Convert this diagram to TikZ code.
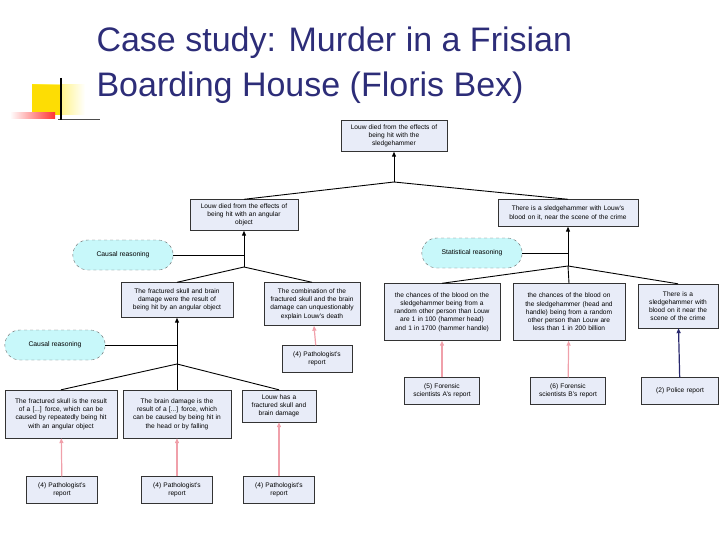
\documentclass[tikz,border=0pt]{standalone}
\usepackage{fontspec}
\setmainfont{Liberation Sans}
\usetikzlibrary{positioning,arrows.meta,shapes,calc}
\definecolor{titleblue}{RGB}{45,45,120}
\definecolor{boxfill}{RGB}{232,236,248}
\definecolor{reasonfill}{RGB}{200,248,250}
\definecolor{pinkarrow}{RGB}{240,160,170}
\definecolor{navyarrow}{RGB}{40,40,110}
\begin{document}
\begin{tikzpicture}[
    x=1pt, y=-1pt,
    >=Triangle,
    claim/.style={rectangle, draw=black!80, fill=boxfill, align=center, font=\fontsize{6.6}{8.2}\selectfont, inner sep=1.5pt},
    report/.style={claim, minimum height=27pt},
    reason/.style={rounded rectangle, draw=black!60, dashed, fill=reasonfill, minimum width=107pt, minimum height=30pt, font=\fontsize{6.8}{8}\selectfont},
    link/.style={line width=0.9pt},
    support/.style={->, line width=1pt, >={Triangle[length=5pt,width=4pt]}},
    testimony/.style={->, line width=1.2pt, draw=pinkarrow, >={Triangle[length=5pt,width=4pt]}}
]
\useasboundingbox (0,0) rectangle (720,540);

% === Title and decoration ===
\shade[left color=yellow!80!orange, right color=white] (32,85) rectangle (85,115);
\fill[yellow!80!orange] (32,85) rectangle (62,115);
\shade[left color=white, right color=red!80] (10,113) rectangle (55,119);
\draw[black!70, line width=0.6pt] (58,119) -- (100,119);
\draw[line width=1.2pt] (61,78) -- (61,120);
\node[anchor=west, text=titleblue, font=\fontsize{34}{45}\selectfont, align=left] (title) at (93,65) {Case study: Murder in a Frisian\\Boarding House (Floris Bex)};

% === Claims ===
\node[claim, text width=103pt, minimum height=31pt] (top) at (394,136) {Louw died from the effects of\\being hit with the\\sledgehammer};
\node[claim, text width=105pt, minimum height=31pt] (angular) at (244,215) {Louw died from the effects of\\being hit with an angular\\object};
\node[claim, text width=137pt, minimum height=27pt] (hammer) at (568,213) {There is a sledgehammer with Louw's\\blood on it, near the scene of the crime};
\node[claim, text width=109pt, minimum height=35pt] (result) at (177,300) {The fractured skull and brain\\damage were the result of\\being hit by an angular object};
\node[claim, text width=93pt, minimum height=43pt] (combo) at (312,304) {The combination of the\\fractured skull and the brain\\damage can unquestionably\\explain Louw's death};
\node[claim, text width=109pt, minimum height=48pt] (skull) at (61,414) {The fractured skull is the result\\of a [...] force, which can be\\caused by repeatedly being hit\\with an angular object};
\node[claim, text width=105pt, minimum height=48pt] (brain) at (177,414) {The brain damage is the\\result of a [...] force, which\\can be caused by being hit in\\the head or by falling};
\node[claim, text width=71pt, minimum height=32pt] (louw) at (279,406) {Louw has a\\fractured skull and\\brain damage};
\node[claim, text width=113pt, minimum height=57pt] (chanceA) at (442,312) {the chances of the blood on the\\sledgehammer being from a\\random other person than Louw\\are 1 in 100 (hammer head)\\and 1 in 1700 (hammer handle)};
\node[claim, text width=109pt, minimum height=57pt] (chanceB) at (569,312) {the chances of the blood on\\the sledgehammer (head and\\handle) being from a random\\other person than Louw are\\less than 1 in 200 billion};
\node[claim, text width=77pt, minimum height=44pt] (blood) at (678,306) {There is a\\sledgehammer with\\blood on it near the\\scene of the crime};

% === Sources ===
\node[report, text width=67pt] (pathA) at (317,359) {(4) Pathologist's\\report};
\node[report, text width=68pt] (pathB) at (62,490) {(4) Pathologist's\\report};
\node[report, text width=68pt] (pathC) at (177,490) {(4) Pathologist's\\report};
\node[report, text width=68pt] (pathD) at (279,490) {(4) Pathologist's\\report};
\node[report, text width=72pt] (forA) at (442,391) {(5) Forensic\\scientists A's report};
\node[report, text width=72pt] (forB) at (568,391) {(6) Forensic\\scientists B's report};
\node[report, text width=74pt] (police) at (680,391) {(2) Police report};

% === Reasoning labels ===
\node[reason] (causal1) at (123,255) {Causal reasoning};
\node[reason] (causal2) at (55,345) {Causal reasoning};
\node[reason] (stat) at (472,253) {Statistical reasoning};

% === Junctions ===
\coordinate (j1) at (394,182);
\coordinate (j2) at (244,267);
\coordinate (j3) at (177,364);
\coordinate (j4) at (568,266);

\draw[link] (angular.north) -- (j1) -- (hammer.north);
\draw[support] (j1) -- (top.south);
\draw[link] (result.north) -- (j2) -- (combo.north);
\draw[support] (j2) -- (angular.south);
\draw[link] (causal1.east) -- (causal1.east -| j2);
\draw[link] (skull.north) -- (j3) -- (louw.north);
\draw[line width=0.5pt] (j3) -- (brain.north);
\draw[support] (j3) -- (result.south);
\draw[link] (causal2.east) -- (causal2.east -| j3);
\draw[link] (chanceA.north) -- (j4) -- (blood.north);
\draw[link] (j4) -- (chanceB.north);
\draw[support] (j4) -- (hammer.south);
\draw[line width=0.5pt] (stat.east) -- (stat.east -| j4);

% === Testimony ===
\draw[testimony] (pathA) -- (combo);
\draw[testimony] (pathB) -- (skull);
\draw[testimony] (pathC) -- (brain);
\draw[testimony] (pathD) -- (louw);
\draw[testimony] (forA) -- (chanceA);
\draw[testimony] (forB) -- (chanceB);
\draw[testimony, draw=navyarrow] (police) -- (blood);
\end{tikzpicture}
\end{document}
